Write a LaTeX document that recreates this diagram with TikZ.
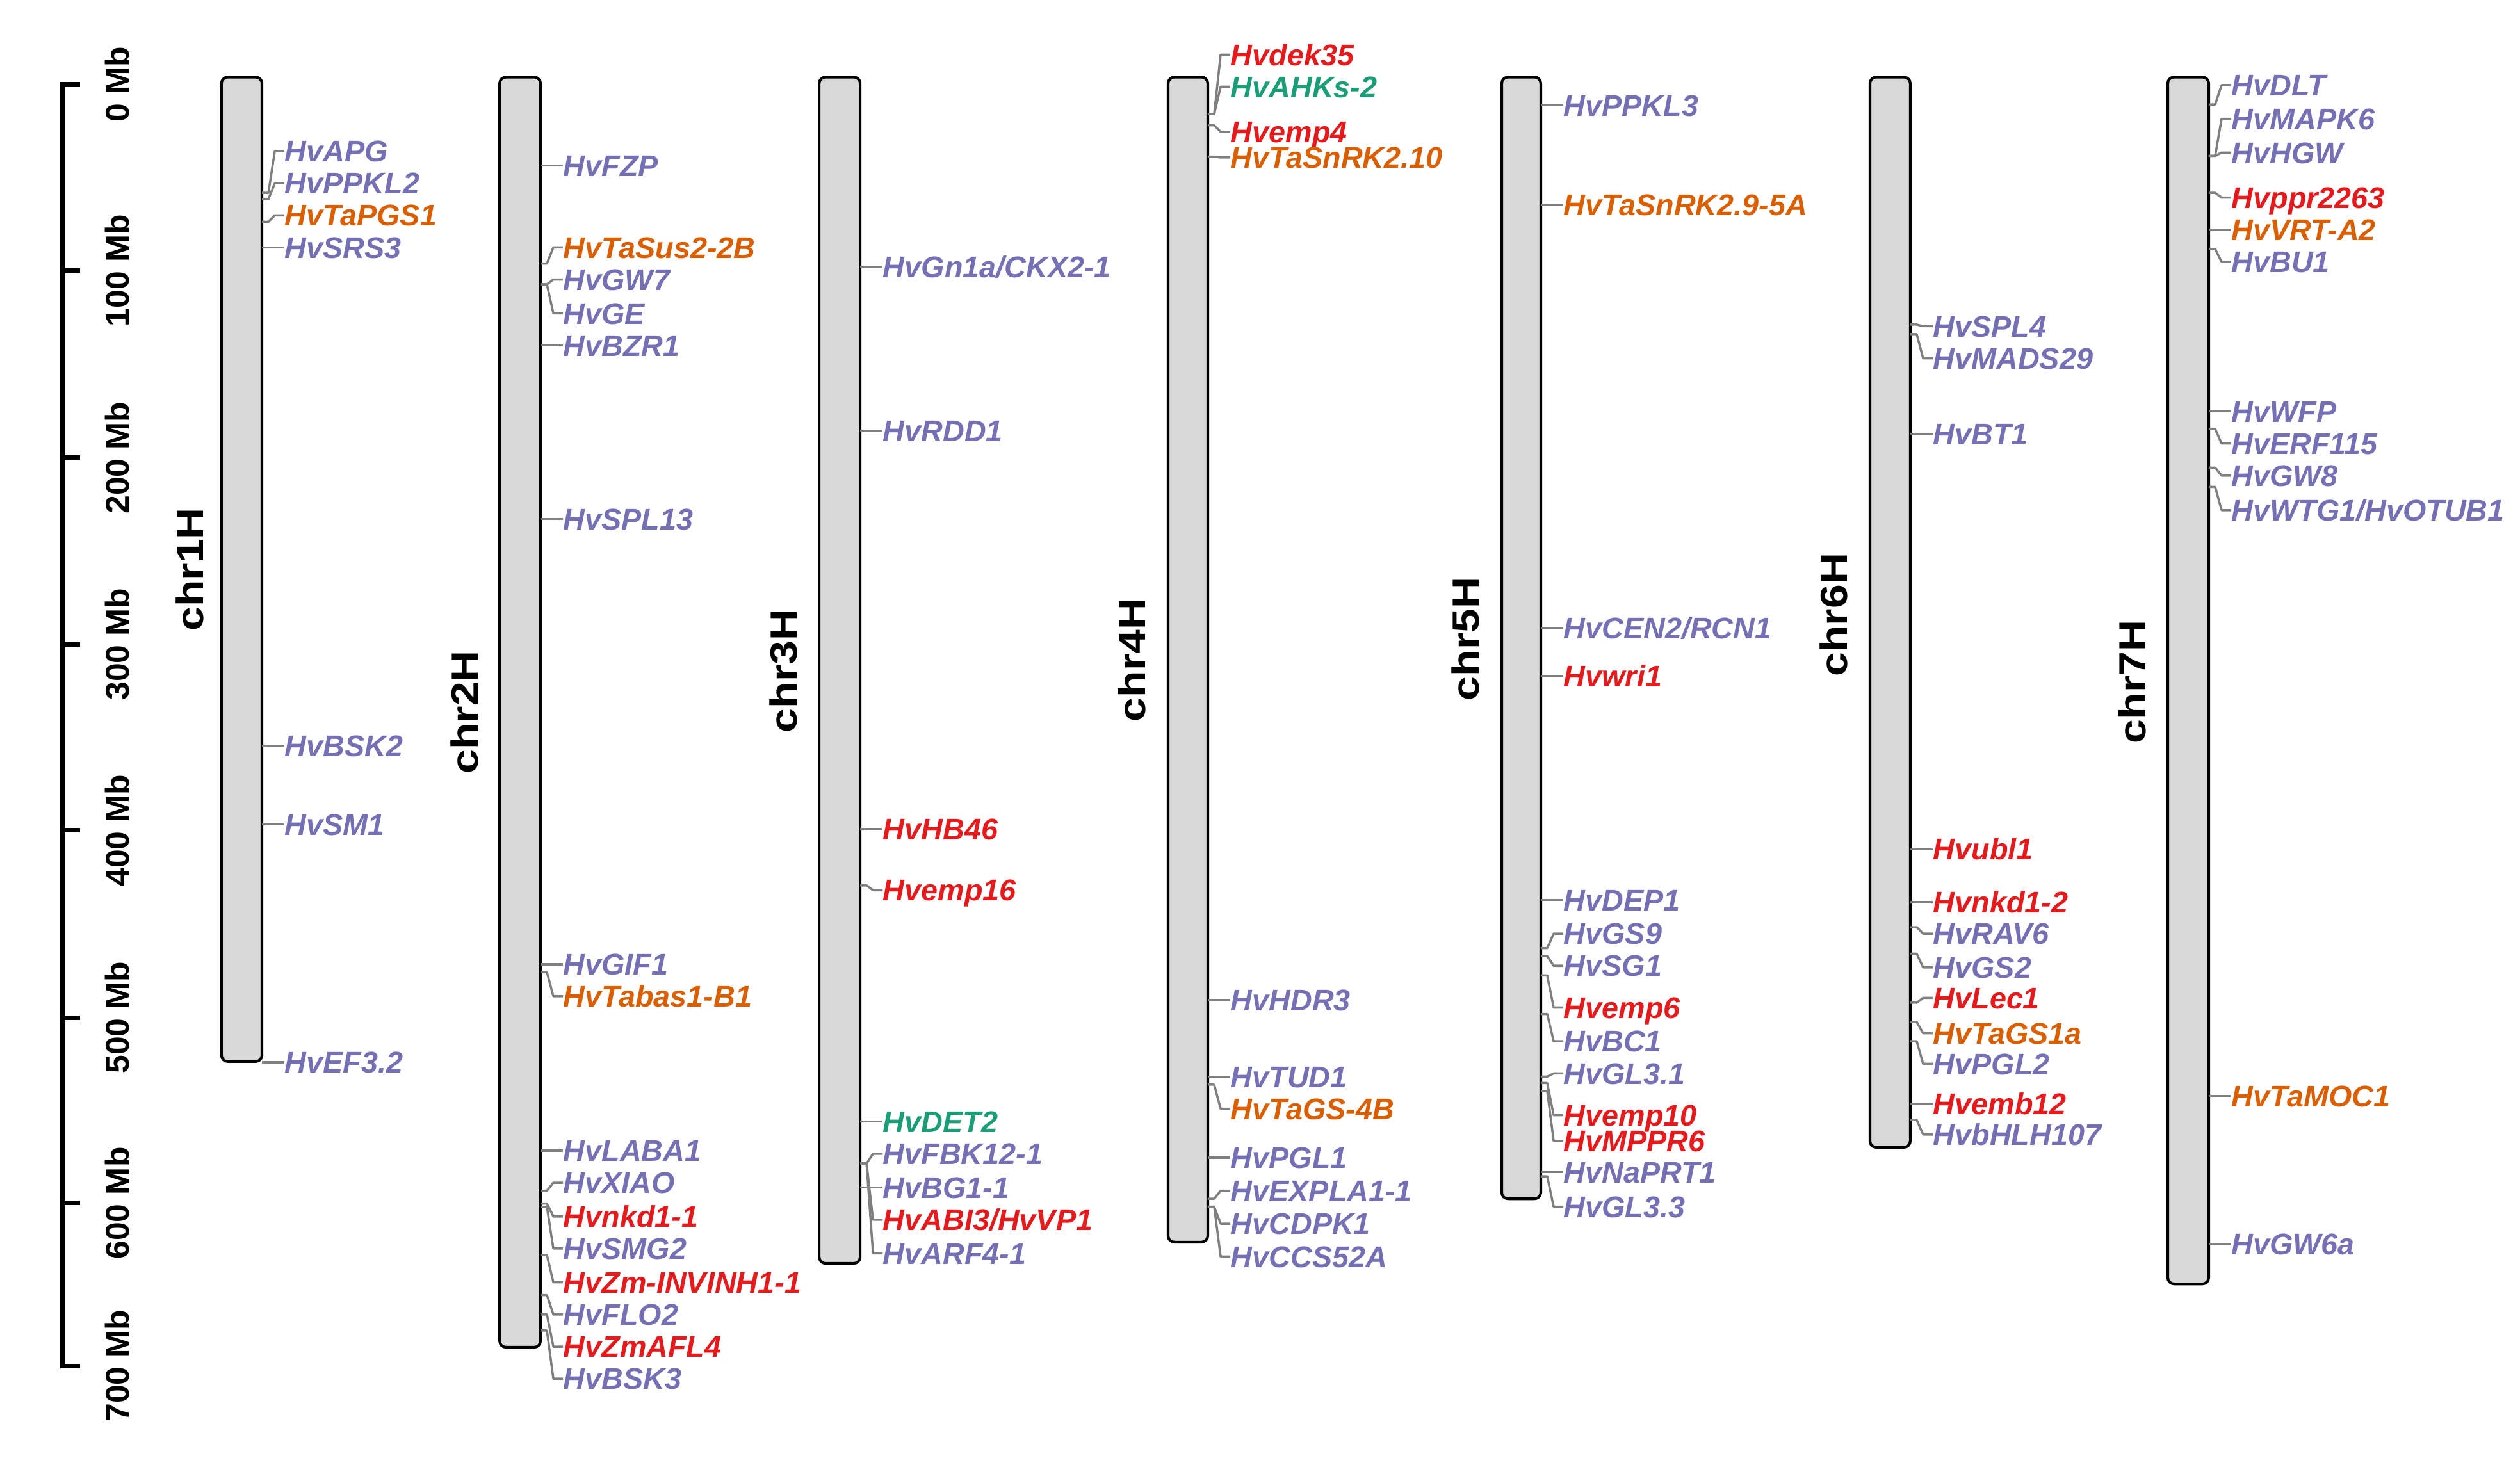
\documentclass[tikz,border=0pt]{standalone}
\usepackage{fontspec}
\setmainfont{Liberation Sans}
\newfontfamily\chrfamily[FakeStretch=1.15]{Liberation Sans}
\usepackage{tikz}
\definecolor{gpur}{HTML}{7570B3}
\definecolor{gora}{HTML}{D95F02}
\definecolor{ggre}{HTML}{1B9E77}
\definecolor{gred}{HTML}{E41A1C}
\definecolor{chrgray}{HTML}{D9D9D9}
\definecolor{linkgray}{HTML}{7F7F7F}
\tikzset{%
  % Specifications for style of chromosomes and labels:
     chrom/.style = {draw=black, fill=chrgray, line width=1.2pt,
                     rounded corners=2.8pt},
      gene/.style = {anchor=west, inner sep=0pt, text height=9.5pt,
                     text depth=0pt,
                     font=\fontsize{13.3}{15}\selectfont\bfseries\itshape},
      link/.style = {draw=linkgray, line width=1pt, line join=round},
   chrname/.style = {rotate=90, inner sep=0pt,
                     font=\chrfamily\fontsize{16.8}{18}\selectfont\bfseries},
   mblabel/.style = {rotate=90, inner sep=0pt,
                     font=\fontsize{14.7}{16}\selectfont\bfseries},
}

\begin{document}
\begin{tikzpicture}[x=0.0251cm, y=-0.0251cm]
  \useasboundingbox (0,0) rectangle (1568,907);

  % scale
  \draw[line width=2pt] (50,52.6) -- (38.9,52.6) -- (38.9,850) -- (50,850);
  \foreach \y/\t in {52.6/0, 168.5/100, 284.9/200, 400.9/300, 516.8/400,
                     633.2/500, 748.7/600, 850/700} {
    \draw[line width=2pt] (38.9,\y) -- (50,\y);
    \node[mblabel] (mb\t) at (73,\y) {\t\ Mb};
  }

  % chr1H
  \draw[chrom] (137.8,48) rectangle (163,660.6);
  \node[chrname] (chr1) at (118,354.4) {chr1H};
  \foreach \ya/\yl/\c/\t [count=\i] in {120/94/gpur/HvAPG, 124/114/gpur/HvPPKL2,
      138/134/gora/HvTaPGS1, 154/154/gpur/HvSRS3, 464/464/gpur/HvBSK2,
      513/513/gpur/HvSM1, 661/661/gpur/HvEF3.2} {
    \coordinate (c1p\i) at (163,\ya);
    \node[gene, text=\c] (c1g\i) at (177,\yl) {\t};
    \draw[link] (c1p\i) -- ++(4,0) -- (171,\yl) -- (c1g\i.west);
  }

  % chr2H
  \draw[chrom] (310.9,48) rectangle (336.3,838.4);
  \node[chrname] (chr2) at (289,443.2) {chr2H};
  \foreach \ya/\yl/\c/\t [count=\i] in {103/103/gpur/HvFZP,
      164/154/gora/HvTaSus2-2B, 177/174/gpur/HvGW7, 177/195/gpur/HvGE,
      215/215/gpur/HvBZR1, 323/323/gpur/HvSPL13, 600/600/gpur/HvGIF1,
      605/620/gora/HvTabas1-B1, 716/716/gpur/HvLABA1, 741/736/gpur/HvXIAO,
      749/757/gred/Hvnkd1-1, 751/777/gpur/HvSMG2,
      781/798/gred/HvZm-INVINH1-1, 806/818/gpur/HvFLO2,
      818/838/gred/HvZmAFL4, 828/858/gpur/HvBSK3} {
    \coordinate (c2p\i) at (336.3,\ya);
    \node[gene, text=\c] (c2g\i) at (350.3,\yl) {\t};
    \draw[link] (c2p\i) -- ++(4,0) -- (344.3,\yl) -- (c2g\i.west);
  }

  % chr3H
  \draw[chrom] (509.7,48) rectangle (535.2,786.2);
  \node[chrname] (chr3) at (487.7,417.6) {chr3H};
  \foreach \ya/\yl/\c/\t [count=\i] in {166/166/gpur/{HvGn1a/CKX2-1},
      268/268/gpur/HvRDD1, 516/516/gred/HvHB46, 551/554/gred/Hvemp16,
      698/698/ggre/HvDET2, 724/718/gpur/HvFBK12-1, 739/739/gpur/HvBG1-1,
      724/759/gred/{HvABI3/HvVP1}, 724/780/gpur/HvARF4-1} {
    \coordinate (c3p\i) at (535.2,\ya);
    \node[gene, text=\c] (c3g\i) at (549.2,\yl) {\t};
    \draw[link] (c3p\i) -- ++(4,0) -- (543.2,\yl) -- (c3g\i.west);
  }

  % chr4H
  \draw[chrom] (726.8,48) rectangle (751.5,773);
  \node[chrname] (chr4) at (704.4,410.8) {chr4H};
  \foreach \ya/\yl/\c/\t [count=\i] in {71/34/gred/Hvdek35,
      71/54/ggre/HvAHKs-2, 78/82/gred/Hvemp4, 97.5/98/gora/HvTaSnRK2.10,
      622.5/622.5/gpur/HvHDR3, 670/670/gpur/HvTUD1,
      675/690/gora/HvTaGS-4B, 720.5/720.5/gpur/HvPGL1,
      746/741/gpur/HvEXPLA1-1, 751/761.5/gpur/HvCDPK1,
      751/782/gpur/HvCCS52A} {
    \coordinate (c4p\i) at (751.5,\ya);
    \node[gene, text=\c] (c4g\i) at (765.5,\yl) {\t};
    \draw[link] (c4p\i) -- ++(4,0) -- (759.5,\yl) -- (c4g\i.west);
  }

  % chr5H
  \draw[chrom] (934.4,48) rectangle (958.7,746);
  \node[chrname] (chr5) at (912,397.6) {chr5H};
  \foreach \ya/\yl/\c/\t [count=\i] in {65.5/65.5/gpur/HvPPKL3,
      127.4/127.4/gora/HvTaSnRK2.9-5A, 390.7/390.7/gpur/{HvCEN2/RCN1},
      420.6/420.6/gred/Hvwri1, 560/560/gpur/HvDEP1, 590/581/gpur/HvGS9,
      595/601/gpur/HvSG1, 607/627/gred/Hvemp6, 631/648/gpur/HvBC1,
      670/668/gpur/HvGL3.1, 674/694/gred/Hvemp10, 679/710/gred/HvMPPR6,
      729.5/729.5/gpur/HvNaPRT1, 732/751/gpur/HvGL3.3} {
    \coordinate (c5p\i) at (958.7,\ya);
    \node[gene, text=\c] (c5g\i) at (972.7,\yl) {\t};
    \draw[link] (c5p\i) -- ++(4,0) -- (966.7,\yl) -- (c5g\i.west);
  }

  % chr6H
  \draw[chrom] (1163.5,48) rectangle (1188.6,714);
  \node[chrname] (chr6) at (1141,382.6) {chr6H};
  \foreach \ya/\yl/\c/\t [count=\i] in {202/203/gpur/HvSPL4,
      208/223/gpur/HvMADS29, 270/270/gpur/HvBT1, 528.5/528.5/gred/Hvubl1,
      561.5/561.5/gred/Hvnkd1-2, 577/581/gpur/HvRAV6, 593.5/602/gpur/HvGS2,
      624/621/gred/HvLec1, 636/643/gora/HvTaGS1a, 648/662/gpur/HvPGL2,
      687/687/gred/Hvemb12, 697/706/gpur/HvbHLH107} {
    \coordinate (c6p\i) at (1188.6,\ya);
    \node[gene, text=\c] (c6g\i) at (1202.6,\yl) {\t};
    \draw[link] (c6p\i) -- ++(4,0) -- (1196.6,\yl) -- (c6g\i.west);
  }

  % chr7H
  \draw[chrom] (1348.8,48) rectangle (1374.3,799);
  \node[chrname] (chr7) at (1326.7,424.3) {chr7H};
  \foreach \ya/\yl/\c/\t [count=\i] in {65/53/gpur/HvDLT,
      97/74/gpur/HvMAPK6, 97/95/gpur/HvHGW, 120/123/gred/Hvppr2263,
      143/143/gora/HvVRT-A2, 155/163/gpur/HvBU1, 256/256/gpur/HvWFP,
      267/276/gpur/HvERF115, 291/296/gpur/HvGW8,
      303/317.5/gpur/{HvWTG1/HvOTUB1}, 682/682/gora/HvTaMOC1,
      774/774/gpur/HvGW6a} {
    \coordinate (c7p\i) at (1374.3,\ya);
    \node[gene, text=\c] (c7g\i) at (1388.3,\yl) {\t};
    \draw[link] (c7p\i) -- ++(4,0) -- (1382.3,\yl) -- (c7g\i.west);
  }
\end{tikzpicture}
\end{document}
